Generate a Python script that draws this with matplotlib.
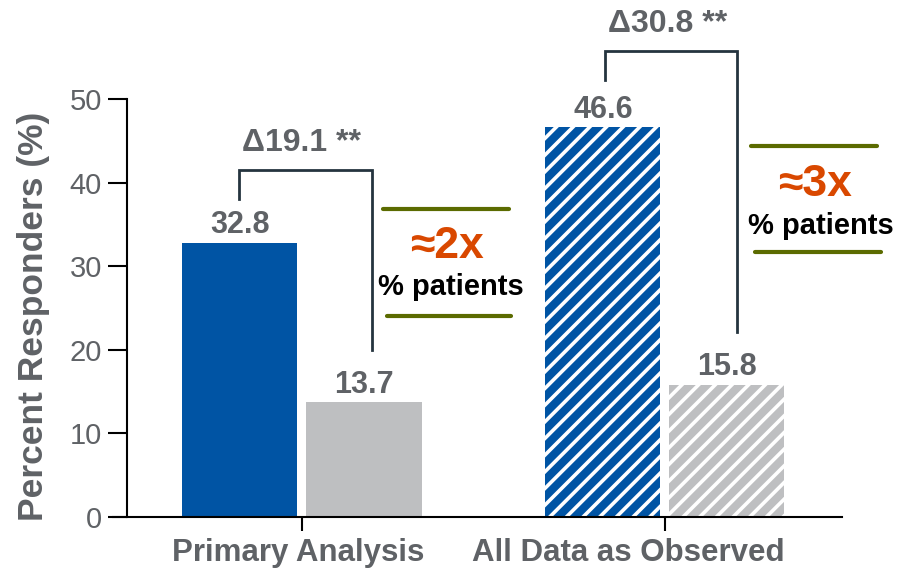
import matplotlib
matplotlib.use("Agg")
import matplotlib.pyplot as plt

plt.rcParams['font.family'] = ['Liberation Sans', 'DejaVu Sans']
plt.rcParams['hatch.linewidth'] = 2.6

# Data
groups = ["Primary Analysis", "All Data as Observed"]
active = [32.8, 46.6]
control = [13.7, 15.8]
deltas = ["\u039419.1 **", "\u039430.8 **"]
ratios = ["\u22482x", "\u22483x"]
yticks = [0, 10, 20, 30, 40, 50]

BLUE = "#0054a4"
GREY = "#bebfc1"
TXT = "#5f6266"
BRACKET = "#25343f"
OLIVE = "#5b6b00"
ORANGE = "#d94800"

fig = plt.figure(figsize=(8.97, 5.68), dpi=100)
ax = fig.add_axes([0.1416, 0.0898, 0.7971, 0.7359])

w = 0.317
off = 0.171
hatches = [None, "//"]
for i, g in enumerate(groups):
    h = hatches[i]
    ax.bar(i - off, active[i], width=w, color=BLUE, hatch=h,
           edgecolor="white" if h else BLUE, linewidth=0, zorder=2)
    ax.bar(i + off, control[i], width=w, color=GREY, hatch=h,
           edgecolor="white" if h else GREY, linewidth=0, zorder=2)
    for x, v in ((i - off, active[i]), (i + off, control[i])):
        ax.text(x, v + 0.3, f"{v}", ha="center", va="bottom",
                fontsize=22, fontweight="bold", color=TXT)

# Difference brackets
brackets = [(-0.174, 0.193, 38.0, 41.5, 20.0),
            (1 - 0.165, 1 + 0.198, 52.3, 55.75, 22.1)]
for (xl, xr, yl, yt, yr), d in zip(brackets, deltas):
    ax.plot([xl, xl, xr, xr], [yl, yt, yt, yr], color=BRACKET, lw=2,
            solid_joinstyle="miter", clip_on=False, zorder=3)
    ax.text((xl + xr) / 2 - 0.01, yt + 1.4, d, ha="center", va="bottom",
            fontsize=23, fontweight="bold", color=TXT, clip_on=False)

# Fold-change callouts
callouts = [(0, 0.223, 0.570, 36.8, 0.234, 0.576, 24.1, 0.40, 32.3, 0.41, 27.5),
            (1, 0.237, 0.584, 44.4, 0.248, 0.595, 31.7, 0.413, 39.8, 0.43, 34.8)]
for (g, a0, a1, ya, b0, b1, yb, tx, ty, px, py), r in zip(callouts, ratios):
    ax.plot([g + a0, g + a1], [ya, ya], color=OLIVE, lw=3,
            solid_capstyle="round", clip_on=False)
    ax.plot([g + b0, g + b1], [yb, yb], color=OLIVE, lw=3,
            solid_capstyle="round", clip_on=False)
    ax.text(g + tx, ty, r, ha="center", va="center", fontsize=32,
            fontweight="bold", color=ORANGE, clip_on=False)
    ax.text(g + px, py, "% patients", ha="center", va="center",
            fontsize=21, fontweight="bold", color="black", clip_on=False)

ax.set_xlim(-0.482, 1.488)
ax.set_ylim(0, 50)
ax.set_yticks(yticks)
ax.set_xticks(range(len(groups)))
ax.set_xticklabels([])
# category names under the ticks; the second one sits a bit left of its tick
label_shift = [-0.01, -0.102]
for i, g in enumerate(groups):
    ax.text(i + label_shift[i], -0.086, g, transform=ax.get_xaxis_transform(),
            ha="center", va="center", fontsize=22.5, fontweight="bold",
            color=TXT, clip_on=False)
ax.tick_params(axis="y", labelsize=21, labelcolor=TXT, length=14, width=1.5,
               pad=4)
ax.tick_params(axis="x", length=10, width=1.5)
ax.set_ylabel("Percent Responders (%)", fontsize=25.5, fontweight="bold",
              color=TXT)
ax.yaxis.set_label_coords(-0.108, 0.48)
for s in ("top", "right"):
    ax.spines[s].set_visible(False)
for s in ("left", "bottom"):
    ax.spines[s].set_linewidth(1.5)
ax.spines["bottom"].set_bounds(-0.52, 1.488)

fig.savefig("out.png", dpi=100)
